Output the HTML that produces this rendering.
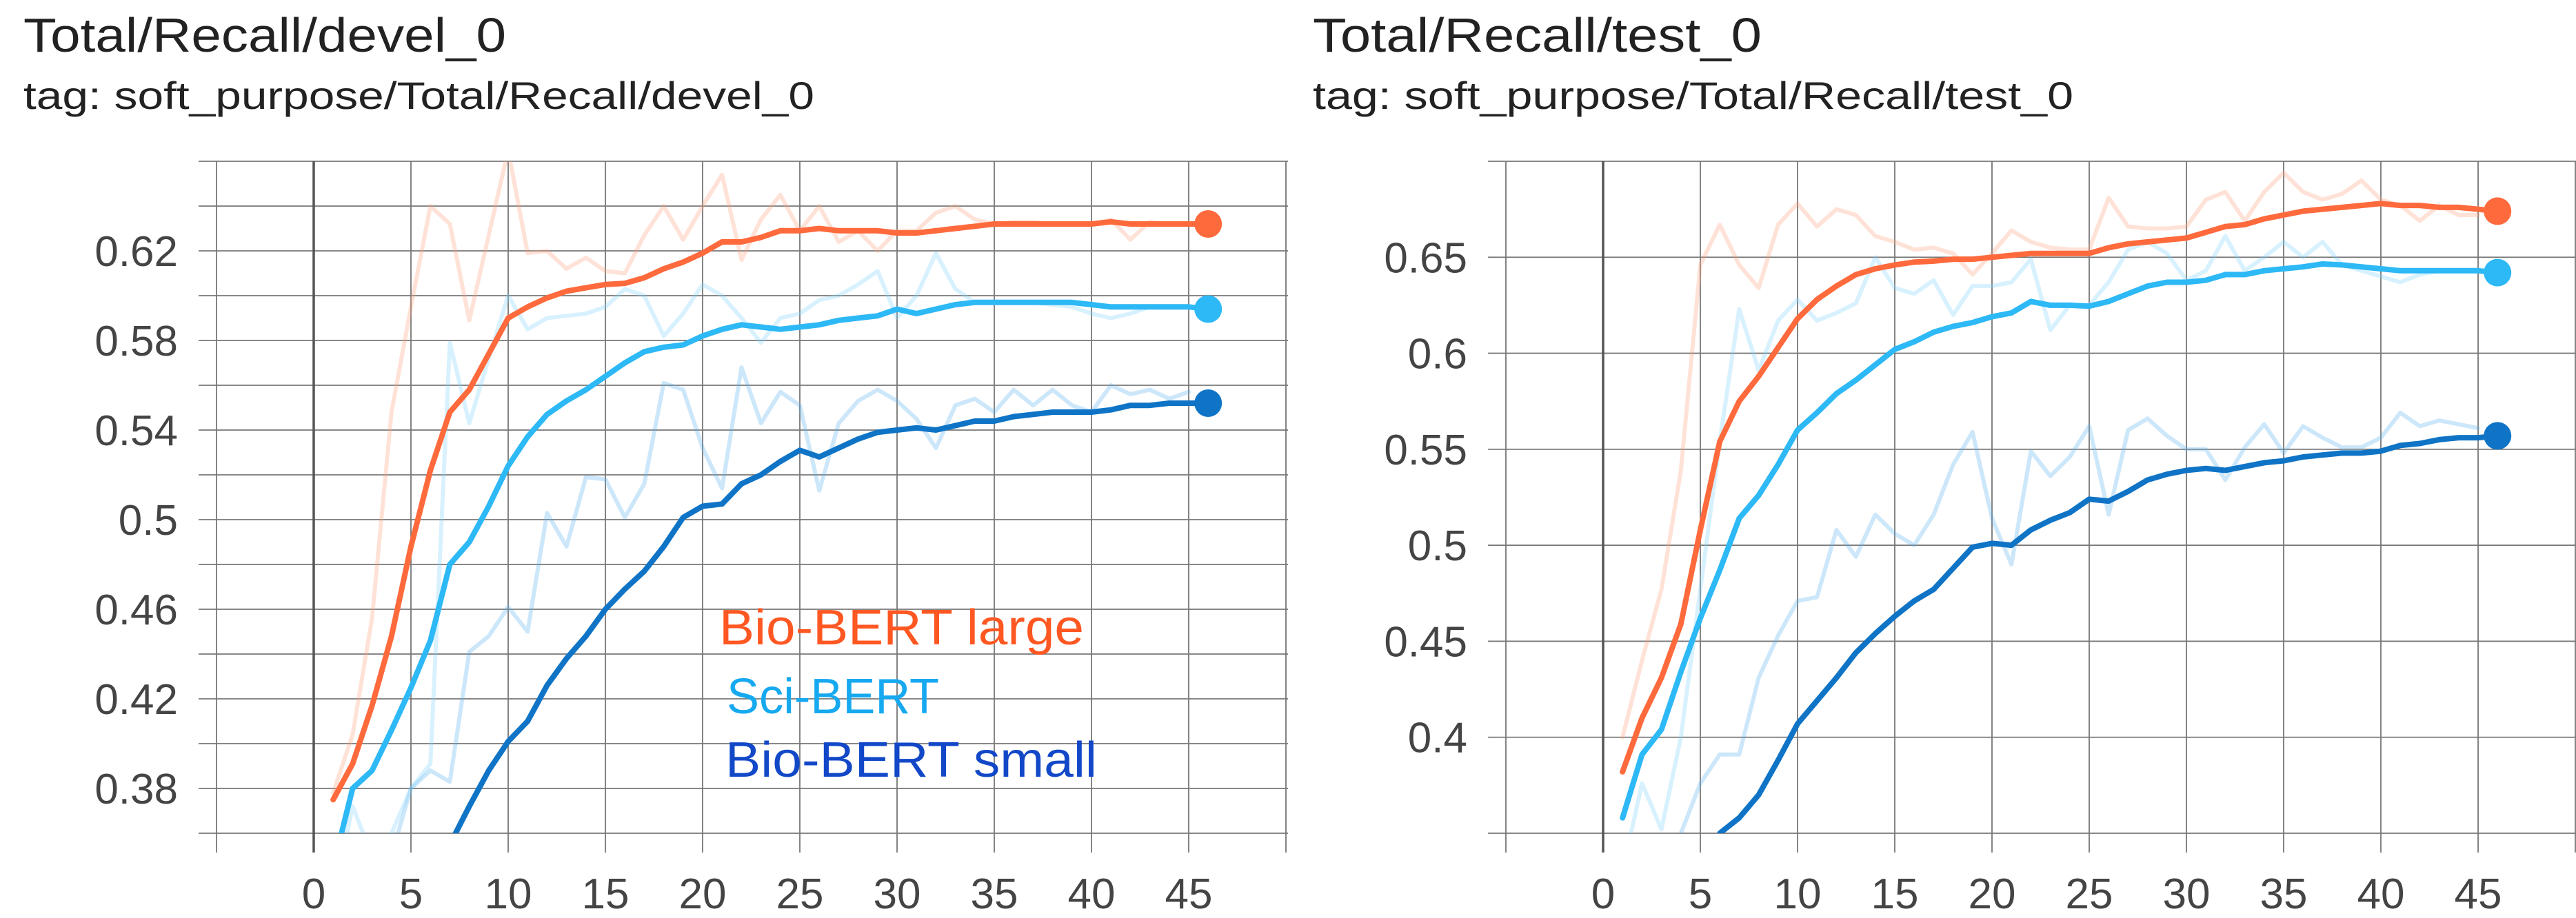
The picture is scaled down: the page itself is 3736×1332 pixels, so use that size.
<!DOCTYPE html>
<html><head><meta charset="utf-8">
<style>
html,body{margin:0;padding:0;background:#fff;}
svg{display:block;}
text{font-family:"Liberation Sans",sans-serif;}
</style></head>
<body>
<svg id="svg" width="3736" height="1332" viewBox="0 0 3736 1332" xmlns="http://www.w3.org/2000/svg">
<text x="34" y="75" font-size="70" fill="#222" textLength="700" lengthAdjust="spacingAndGlyphs">Total/Recall/devel_0</text>
<text x="34" y="158" font-size="56" fill="#222" textLength="1147" lengthAdjust="spacingAndGlyphs">tag: soft_purpose/Total/Recall/devel_0</text>
<text x="1904" y="75" font-size="70" fill="#222" textLength="651" lengthAdjust="spacingAndGlyphs">Total/Recall/test_0</text>
<text x="1904" y="158" font-size="56" fill="#222" textLength="1103" lengthAdjust="spacingAndGlyphs">tag: soft_purpose/Total/Recall/test_0</text>
<g id="left"></g>
<g id="right"></g>
<text x="1043" y="935" font-size="72" fill="#ff5722" textLength="529" lengthAdjust="spacingAndGlyphs">Bio-BERT large</text>
<text x="1054" y="1035" font-size="72" fill="#16a9f0" textLength="308" lengthAdjust="spacingAndGlyphs">Sci-BERT</text>
<text x="1052" y="1127" font-size="72" fill="#1248c8" textLength="539" lengthAdjust="spacingAndGlyphs">Bio-BERT small</text>
</svg>
<script>
// ---- data (steps start at 1 unless noted) ----
const xTicks = [0,5,10,15,20,25,30,35,40,45];
const develYTicks = [0.38,0.42,0.46,0.5,0.54,0.58,0.62];
const testYTicks = [0.4,0.45,0.5,0.55,0.6,0.65];

const devLargeSmooth = [0.375,0.391,0.417,0.448,0.488,0.522,0.548,0.558,0.574,0.59,0.595,0.599,0.602,0.6035,0.605,0.6055,0.608,0.612,0.615,0.619,0.624,0.624,0.626,0.629,0.629,0.630,0.629,0.629,0.629,0.628,0.628,0.629,0.630,0.631,0.632,0.632,0.632,0.632,0.632,0.632,0.633,0.632,0.632,0.632,0.632,0.632];
const devLargeRaw = [0.378,0.404,0.456,0.548,0.595,0.64,0.632,0.589,0.627,0.665,0.619,0.62,0.612,0.617,0.611,0.61,0.627,0.64,0.625,0.64,0.654,0.616,0.634,0.645,0.629,0.64,0.624,0.629,0.62,0.629,0.629,0.637,0.64,0.634,0.632,0.633,0.633,0.632,0.632,0.632,0.634,0.625,0.633,0.632,0.632];
const devSciSmooth = [0.345,0.38,0.388,0.406,0.425,0.446,0.48,0.49,0.506,0.524,0.537,0.547,0.553,0.558,0.564,0.57,0.575,0.577,0.578,0.582,0.585,0.587,0.586,0.585,0.586,0.587,0.589,0.59,0.591,0.594,0.592,0.594,0.596,0.597,0.597,0.597,0.597,0.597,0.597,0.596,0.595,0.595,0.595,0.595,0.595,0.594];
const devSciRaw = [0.33,0.372,0.35,0.36,0.38,0.391,0.579,0.543,0.572,0.6,0.585,0.59,0.591,0.592,0.595,0.603,0.6,0.582,0.592,0.605,0.6,0.59,0.579,0.59,0.592,0.598,0.6,0.605,0.611,0.59,0.6,0.619,0.603,0.597,0.597,0.597,0.597,0.596,0.595,0.592,0.59,0.592,0.595,0.595,0.595];
const devSmallStart = 7;
const devSmallSmooth = [0.355,0.372,0.388,0.401,0.41,0.426,0.438,0.448,0.46,0.469,0.477,0.488,0.501,0.506,0.507,0.516,0.52,0.526,0.531,0.528,0.532,0.536,0.539,0.54,0.541,0.54,0.542,0.544,0.544,0.546,0.547,0.548,0.548,0.548,0.549,0.551,0.551,0.552,0.552,0.552];
const devSmallRawStart = 4;
const devSmallRaw = [0.35,0.38,0.388,0.383,0.441,0.448,0.461,0.45,0.503,0.488,0.519,0.518,0.501,0.516,0.561,0.558,0.532,0.514,0.568,0.543,0.557,0.551,0.513,0.543,0.553,0.558,0.553,0.545,0.532,0.551,0.554,0.548,0.558,0.551,0.558,0.551,0.548,0.56,0.556,0.558,0.554,0.557];

const testLargeSmooth = [0.382,0.41,0.431,0.459,0.508,0.554,0.575,0.588,0.603,0.618,0.628,0.635,0.641,0.644,0.646,0.6475,0.648,0.649,0.649,0.65,0.651,0.652,0.652,0.652,0.652,0.655,0.657,0.658,0.659,0.66,0.663,0.666,0.667,0.67,0.672,0.674,0.675,0.676,0.677,0.678,0.677,0.677,0.676,0.676,0.675,0.674];
const testLargeRaw = [0.40,0.44,0.477,0.539,0.646,0.667,0.646,0.634,0.667,0.678,0.666,0.675,0.672,0.661,0.658,0.654,0.655,0.652,0.641,0.652,0.664,0.658,0.655,0.654,0.654,0.681,0.666,0.665,0.665,0.666,0.68,0.684,0.669,0.684,0.694,0.684,0.68,0.683,0.69,0.68,0.677,0.669,0.677,0.672,0.672];
const testSciSmooth = [0.358,0.391,0.404,0.434,0.462,0.487,0.514,0.526,0.542,0.56,0.569,0.579,0.586,0.594,0.602,0.606,0.611,0.614,0.616,0.619,0.621,0.627,0.625,0.625,0.6245,0.627,0.631,0.635,0.637,0.637,0.638,0.641,0.641,0.643,0.644,0.645,0.6465,0.646,0.645,0.644,0.643,0.643,0.643,0.643,0.643,0.642];
const testSciRaw = [0.33,0.376,0.352,0.40,0.477,0.554,0.623,0.591,0.617,0.628,0.617,0.621,0.626,0.65,0.634,0.631,0.638,0.62,0.635,0.635,0.637,0.649,0.612,0.625,0.625,0.637,0.654,0.658,0.652,0.638,0.643,0.661,0.643,0.65,0.658,0.65,0.658,0.646,0.643,0.64,0.637,0.641,0.643,0.643,0.643];
const testSmallStart = 6;
const testSmallSmooth = [0.35,0.358,0.37,0.388,0.407,0.419,0.431,0.444,0.454,0.463,0.471,0.477,0.488,0.499,0.501,0.50,0.508,0.513,0.517,0.524,0.523,0.528,0.534,0.537,0.539,0.54,0.539,0.541,0.543,0.544,0.546,0.547,0.548,0.548,0.549,0.552,0.553,0.555,0.556,0.556,0.557];
const testSmallRawStart = 4;
const testSmallRaw = [0.35,0.376,0.391,0.391,0.431,0.453,0.471,0.473,0.508,0.494,0.516,0.506,0.5,0.516,0.542,0.559,0.514,0.49,0.549,0.536,0.546,0.562,0.516,0.56,0.566,0.557,0.55,0.55,0.534,0.551,0.563,0.548,0.562,0.556,0.551,0.551,0.556,0.569,0.562,0.565,0.563,0.561];

const NS="http://www.w3.org/2000/svg";
function mk(tag, attrs, parent){const e=document.createElementNS(NS,tag);for(const k in attrs)e.setAttribute(k,attrs[k]);parent.appendChild(e);return e;}

function chart(g, cfg){
  const xS = v => cfg.x0 + v*cfg.xPer;
  const yS = v => cfg.yTop + (cfg.vTop - v)/(cfg.vTop-cfg.vBot)*(cfg.yBot-cfg.yTop);
  for(let v=cfg.vBot; v<=cfg.vTop+1e-9; v+=cfg.gridStep){
    const l=mk('line',{x1:cfg.left,x2:cfg.right,y1:yS(v),y2:yS(v),stroke:'#777','stroke-width':1.8},g);
    
    
  }
  for(let s=-5; s<=50; s+=5){
    const x=xS(s); if(x>cfg.right+2) continue;
    const l=mk('line',{x1:x,x2:x,y1:cfg.yTop,y2:cfg.yBot+28,stroke:s===0?'#555':'#777','stroke-width':s===0?3.5:1.8},g);
    
    
  }
  cfg.xTicks.forEach(t=>{
    const e=mk('text',{x:xS(t),y:1318,'font-size':62,fill:'#444','text-anchor':'middle'},g);
    e.textContent=t;
    
    
  });
  cfg.yTicks.forEach(t=>{
    const e=mk('text',{x:cfg.left-30,y:yS(t)+22,'font-size':62,fill:'#444','text-anchor':'end'},g);
    e.textContent=String(t);
    
    
  });
  const cid='clip'+cfg.id;
  const cp=mk('clipPath',{id:cid},g);
  mk('rect',{x:cfg.left,y:cfg.yTop,width:cfg.right-cfg.left,height:cfg.yBot-cfg.yTop},cp);
  const lg=mk('g',{'clip-path':'url(#'+cid+')'},g);
  cfg.series.forEach(s=>{
    const pts=s.vals.map((v,i)=>xS(s.start+i).toFixed(1)+','+yS(v).toFixed(1)).join(' ');
    const p=mk('polyline',{points:pts,fill:'none',stroke:s.color,'stroke-width':s.raw?6:8,'stroke-opacity':s.raw?0.3:1,'stroke-linejoin':'round','stroke-linecap':'round'},lg);
    
    
    if(!s.raw){
      const n=s.vals.length-1;
      const c=mk('circle',{cx:xS(s.start+n),cy:yS(s.vals[n]),r:20,fill:s.color},g);
      
      
    }
  });
}
const OR='#ff6a3d', SC='#2db8f6', DB='#0f74c6';
chart(document.getElementById('left'),{id:'L',left:288,right:1868,x0:455,xPer:28.2,yTop:234,yBot:1209,vTop:0.66,vBot:0.36,gridStep:0.02,
  xTicks:xTicks,yTicks:develYTicks,series:[
  {name:'bio-bert-small-raw',raw:true,color:'#5aaef0',start:devSmallRawStart,vals:devSmallRaw},
  {name:'sci-bert-raw',raw:true,color:'#7fd0fb',start:1,vals:devSciRaw},
  {name:'bio-bert-large-raw',raw:true,color:'#ffa07a',start:1,vals:devLargeRaw},
  {name:'bio-bert-small-line',color:DB,start:devSmallStart,vals:devSmallSmooth},
  {name:'sci-bert-line',color:SC,start:1,vals:devSciSmooth},
  {name:'bio-bert-large-line',color:OR,start:1,vals:devLargeSmooth}]});
chart(document.getElementById('right'),{id:'R',left:2158,right:3736,x0:2325,xPer:28.2,yTop:234,yBot:1209,vTop:0.70,vBot:0.35,gridStep:0.05,
  xTicks:xTicks,yTicks:testYTicks,series:[
  {name:'bio-bert-small-raw',raw:true,color:'#5aaef0',start:testSmallRawStart,vals:testSmallRaw},
  {name:'sci-bert-raw',raw:true,color:'#7fd0fb',start:1,vals:testSciRaw},
  {name:'bio-bert-large-raw',raw:true,color:'#ffa07a',start:1,vals:testLargeRaw},
  {name:'bio-bert-small-line',color:DB,start:testSmallStart,vals:testSmallSmooth},
  {name:'sci-bert-line',color:SC,start:1,vals:testSciSmooth},
  {name:'bio-bert-large-line',color:OR,start:1,vals:testLargeSmooth}]});
</script>
</body></html>
